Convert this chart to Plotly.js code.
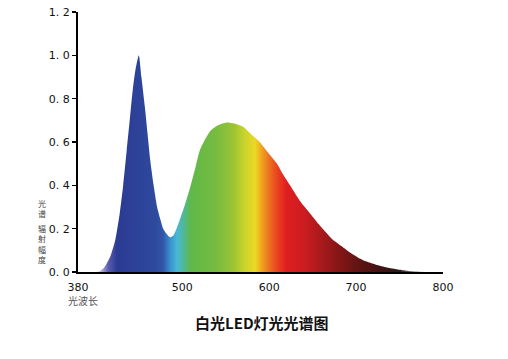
<!DOCTYPE html>
<html>
<head>
<meta charset="utf-8">
<script src="https://cdn.plot.ly/plotly-3.0.1.min.js"></script>
<style>html,body{margin:0;padding:0;background:#fff;}#chart{width:508px;height:359px;}</style>
</head>
<body>
<div id="chart"></div>
<script>
// Wavelength (nm) and relative radiant intensity
const wavelength = [400,405,410,417,423,428,432,436,440,443,446,450,453,457,460,463,467,471,475,478,482,486,490,497,503,509,515,520,526,532,540,551,560,570,578,589,597,609,616,624,635,645,655,665,673,683,693,703,712,722,731,740,750,760,770,780];
const intensity  = [0,0.005,0.02,0.07,0.15,0.27,0.40,0.56,0.72,0.84,0.93,1.0,0.90,0.76,0.64,0.52,0.40,0.30,0.24,0.20,0.175,0.16,0.17,0.24,0.31,0.39,0.48,0.56,0.61,0.65,0.675,0.69,0.685,0.67,0.64,0.60,0.56,0.50,0.45,0.40,0.33,0.28,0.23,0.185,0.15,0.12,0.09,0.065,0.048,0.035,0.025,0.017,0.01,0.005,0.002,0];

// Spectral colour stops (wavelength -> colour)
const colorWl  = [400,405,415,425,470,478,486,494,502,510,540,560,572,584,592,600,610,620,640,660,680,700,725,750,780];
const colorHex = ['rgba(230,228,245,0.4)','#c8c4e6','#5a5cae','#2b3a92','#2e4a9e','#3156aa','#3890cc','#48b8d8','#50b890','#60b848','#78bc40','#a0c434','#cad42c','#ecd824','#f0a020','#ec7020','#e84020','#e01e20','#cc1c20','#a81a1c','#861616','#641414','#441212','#2a1a1a','rgba(110,110,110,0.6)'];

const xTickVals = [380,500,600,700,800];
const yTickVals = [0,0.2,0.4,0.6,0.8,1.0,1.2];
const yTickText = ['0. 0','0. 2','0. 4','0. 6','0. 8','1. 0','1. 2'];

// vertical y-axis label, two groups of stacked characters
const yLabelGroups = ['光<br>谱','辐<br>射<br>幅<br>度'];
const yLabelPos    = [0.246, 0.108];

const wlMin = colorWl[0], wlMax = colorWl[colorWl.length-1];
const colorscale = colorWl.map((w,i)=>[(w-wlMin)/(wlMax-wlMin), colorHex[i]]);

const trace = {
  x: wavelength, y: intensity, type:'scatter', mode:'lines',
  line:{width:0, color:'rgba(0,0,0,0)', shape:'spline', smoothing:0.6},
  fill:'tozeroy',
  fillgradient:{type:'horizontal', start:wlMin, stop:wlMax, colorscale: colorscale},
  hoverinfo:'skip'
};

const annotations = [
  {text:'白光LED灯光光谱图', xref:'paper', yref:'paper', x:0.505, y:-0.196, xanchor:'center', yanchor:'middle',
   showarrow:false, font:{family:'Noto Sans CJK SC', size:15, color:'#111', weight:'bold'}},
  {text:'光波长', xref:'paper', yref:'paper', x:0.014, y:-0.108, xanchor:'center', yanchor:'middle',
   showarrow:false, font:{family:'Noto Sans CJK SC', size:10, color:'#555'}}
];
yLabelGroups.forEach((t,i)=>annotations.push({
  text:t, xref:'paper', yref:'paper', x:-0.0986, y:yLabelPos[i], xanchor:'center', yanchor:'middle',
  showarrow:false, font:{family:'Noto Sans CJK SC', size:8, color:'#444'}
}));

const layout = {
  width:508, height:359,
  margin:{l:78, r:65, t:12, b:87},
  paper_bgcolor:'#fff', plot_bgcolor:'#fff',
  showlegend:false,
  xaxis:{range:[380,800], tickvals:xTickVals, showline:true, linecolor:'#000', linewidth:2,
         showgrid:false, zeroline:false, ticks:'', ticklabelstandoff:4,
         tickfont:{family:'DejaVu Sans', size:11, color:'#111'}},
  yaxis:{range:[0,1.2], tickvals:yTickVals, ticktext:yTickText, showline:true, linecolor:'#000', linewidth:2,
         showgrid:false, zeroline:false, ticks:'outside', ticklen:4, tickwidth:1.5, tickcolor:'#000',
         tickfont:{family:'DejaVu Sans', size:11, color:'#111'}},
  annotations: annotations
};

Plotly.newPlot('chart', [trace], layout, {displayModeBar:false, staticPlot:true});
</script>
</body>
</html>
